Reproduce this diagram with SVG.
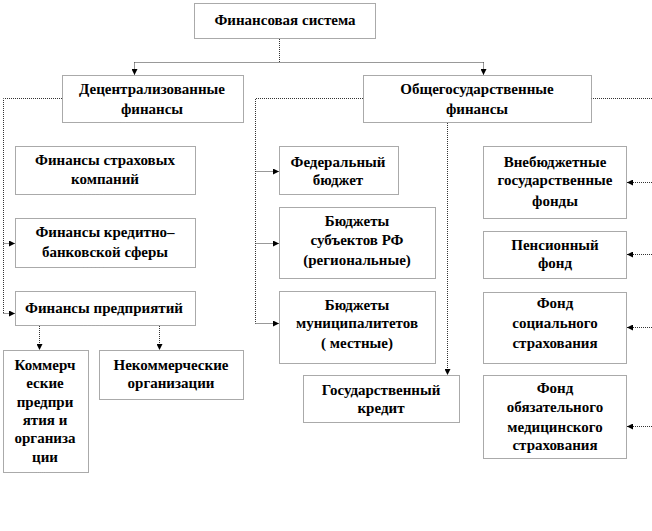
<svg xmlns="http://www.w3.org/2000/svg" width="652" height="531" viewBox="0 0 652 531">
<defs>
<marker id="ah" viewBox="0 0 10 10" refX="10" refY="5" markerWidth="6" markerHeight="6" markerUnits="userSpaceOnUse" orient="auto">
<path d="M0,0 L10,5 L0,10 z" fill="#000"/>
</marker>
<style>
.box{fill:#fff;stroke:#555;stroke-width:1;stroke-dasharray:1 1}
.t{font-family:'Liberation Serif','DejaVu Serif','Times New Roman',serif;font-size:15px;font-weight:bold;fill:#000;text-anchor:middle}
.c{fill:none;stroke:#333;stroke-width:1;stroke-dasharray:1 1}
.a{fill:none;stroke:#333;stroke-width:1;stroke-dasharray:1 1;marker-end:url(#ah)}
</style>
</defs>
<rect width="652" height="531" fill="#fff"/>
<g id="connectors">
<path class="c" d="M279.5,39 V62.5 M134.5,62.5 H483.5"/>
<path class="a" d="M134.5,62.5 V75"/>
<path class="a" d="M483.5,62.5 V75"/>
<path class="c" d="M62,98.5 H3.5 V313.5"/>
<path class="a" d="M3.5,243.5 H15"/>
<path class="a" d="M3.5,313.5 H15"/>
<path class="c" d="M363,98.5 H255.5 V323.5"/>
<path class="a" d="M255.5,171.5 H279"/>
<path class="a" d="M255.5,243.5 H279"/>
<path class="a" d="M255.5,323.5 H279"/>
<path class="c" d="M591,98.5 H652"/>
<path class="a" d="M652,182.5 H627"/>
<path class="a" d="M652,254.5 H627"/>
<path class="a" d="M652,327.5 H627"/>
<path class="a" d="M652,426.5 H627"/>
<path class="a" d="M447.5,123 V375"/>
<path class="a" d="M39.5,326 V350"/>
<path class="a" d="M159.5,326 V350"/>
</g>
<g id="n-fin-sys"><rect class="box" x="194.5" y="3.5" width="181" height="35"/><text class="t" x="285" y="25" font-family="Liberation Serif, serif">Финансовая система</text></g>
<g id="n-decentr"><rect class="box" x="62.5" y="75.5" width="181" height="47"/><text class="t" x="152" y="94">Децентрализованные</text><text class="t" x="152" y="114">финансы</text></g>
<g id="n-obsch"><rect class="box" x="363.5" y="75.5" width="228" height="47"/><text class="t" x="477" y="94">Общегосударственные</text><text class="t" x="477" y="114">финансы</text></g>
<g id="n-strah"><rect class="box" x="15.5" y="146.5" width="180" height="48"/><text class="t" x="105" y="165">Финансы страховых</text><text class="t" x="105" y="184">компаний</text></g>
<g id="n-kredit"><rect class="box" x="15.5" y="218.5" width="180" height="49"/><text class="t" x="105" y="237">Финансы кредитно–</text><text class="t" x="105" y="257">банковской сферы</text></g>
<g id="n-predpr"><rect class="box" x="15.5" y="291.5" width="180" height="34"/><text class="t" x="104" y="313">Финансы предприятий</text></g>
<g id="n-kommerch"><rect class="box" x="3.5" y="350.5" width="85" height="122"/><text class="t" x="45" y="370">Коммерч</text><text class="t" x="45" y="388">еские</text><text class="t" x="45" y="407">предпри</text><text class="t" x="45" y="425">ятия и</text><text class="t" x="45" y="443">организа</text><text class="t" x="45" y="462">ции</text></g>
<g id="n-nekommerch"><rect class="box" x="99.5" y="350.5" width="144" height="49"/><text class="t" x="171" y="370">Некоммерческие</text><text class="t" x="171" y="388">организации</text></g>
<g id="n-fed"><rect class="box" x="279.5" y="146.5" width="119" height="48"/><text class="t" x="338" y="167">Федеральный</text><text class="t" x="338" y="185">бюджет</text></g>
<g id="n-subj"><rect class="box" x="279.5" y="207.5" width="156" height="71"/><text class="t" x="357" y="226">Бюджеты</text><text class="t" x="357" y="245">субъектов  РФ</text><text class="t" x="357" y="265">(региональные)</text></g>
<g id="n-munic"><rect class="box" x="279.5" y="291.5" width="156" height="72"/><text class="t" x="357" y="310">Бюджеты</text><text class="t" x="357" y="328">муниципалитетов</text><text class="t" x="357" y="348">( местные)</text></g>
<g id="n-goskredit"><rect class="box" x="303.5" y="375.5" width="156" height="47"/><text class="t" x="381" y="395">Государственный</text><text class="t" x="381" y="413">кредит</text></g>
<g id="n-vnebudg"><rect class="box" x="483.5" y="146.5" width="143" height="72"/><text class="t" x="555" y="167">Внебюджетные</text><text class="t" x="555" y="185">государственные</text><text class="t" x="555" y="206">фонды</text></g>
<g id="n-pens"><rect class="box" x="483.5" y="231.5" width="143" height="47"/><text class="t" x="555" y="250">Пенсионный</text><text class="t" x="555" y="268">фонд</text></g>
<g id="n-soc"><rect class="box" x="483.5" y="292.5" width="143" height="71"/><text class="t" x="555" y="308">Фонд</text><text class="t" x="555" y="328">социального</text><text class="t" x="555" y="348">страхования</text></g>
<g id="n-oms"><rect class="box" x="483.5" y="375.5" width="143" height="83"/><text class="t" x="555" y="393">Фонд</text><text class="t" x="555" y="412">обязательного</text><text class="t" x="555" y="432">медицинского</text><text class="t" x="555" y="450">страхования</text></g>
</svg>
